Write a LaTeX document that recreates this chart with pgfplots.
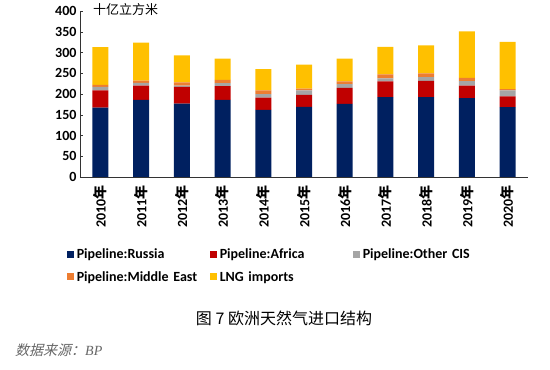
\documentclass[border=0pt]{standalone}
\usepackage{fontspec}
\setmainfont{Carlito}
\newfontfamily\cjk{Noto Sans CJK SC}
\newfontfamily\cjkit{Noto Sans CJK SC}[FakeSlant=0.25]
\newfontfamily\serifit{Liberation Serif}
\usepackage{pgfplots}
\usepackage{pgfplotstable}
\pgfplotsset{compat=1.18}
\definecolor{cRus}{HTML}{002060}
\definecolor{cAfr}{HTML}{C00000}
\definecolor{cCIS}{HTML}{A5A5A5}
\definecolor{cME}{HTML}{ED7D31}
\definecolor{cLNG}{HTML}{FFC000}
\pgfplotstableread{
x Russia Africa CIS ME LNG
0 167 42 8 5 91
1 186 34 7 5.5 91
2 177 40 3 8 65
3 186 33 7 8 51
4 162 29 9 9 51
5 169 29 11 4 58
6 176 39 9 6.5 54.5
7 192.5 38 7 10 66
8 192.5 39 9 9.5 67
9 190 30 11 8 112
10 168.5 26 14 3 114
}\data
\begin{document}
\begin{tikzpicture}
\path[use as bounding box] (0pt,0pt) rectangle (550pt,370pt);
\begin{axis}[
  at={(80pt,193pt)}, anchor=south west,
  scale only axis, width=448pt, height=166pt,
  ybar stacked, bar width=16pt,
  xmin=-0.5, xmax=10.5, ymin=0, ymax=400,
  ytick={0,50,...,400},
  xtick={0,...,10},
  xticklabels={},
  xtick style={draw=none},
  extra x ticks={-0.5,0.5,...,10.5},
  extra x tick labels={},
  extra x tick style={tick align=outside, major tick length=4pt, tick style={draw=black!80}},
  tick align=inside, major tick length=3pt,
  ytick style={draw=black!80},
  yticklabel style={font=\fontsize{14}{16}\selectfont\bfseries},
  /pgf/number format/assume math mode=true,
  axis x line*=bottom, axis y line*=left,
  axis line style={draw=black!80, line width=0.8pt},
  every outer x axis line/.append style={-}, every outer y axis line/.append style={-},
  legend columns=3,
  legend cell align=left,
  legend style={at={(-0.03,-0.42)}, anchor=north west, draw=none, inner sep=0pt,
    font=\fontsize{14}{16}\selectfont\bfseries, row sep=7pt,
    nodes={text width=124pt, align=left, inner xsep=3pt},
    /tikz/every even column/.append style={column sep=6pt}},
  legend image code/.code={\fill[#1] (0pt,-3.5pt) rectangle (7pt,3.5pt);},
]
\addplot[fill=cRus, draw=none] table[x=x,y=Russia]{\data};
\addplot[fill=cAfr, draw=none] table[x=x,y=Africa]{\data};
\addplot[fill=cCIS, draw=none] table[x=x,y=CIS]{\data};
\addplot[fill=cME, draw=none] table[x=x,y=ME]{\data};
\addplot[fill=cLNG, draw=none] table[x=x,y=LNG]{\data};
\legend{Pipeline:Russia,Pipeline:Africa,Pipeline:Other CIS,Pipeline:Middle East,LNG imports}
\end{axis}
\foreach \yr [count=\i from 0] in {2010,2011,2012,2013,2014,2015,2016,2017,2018,2019,2020}{
  \node[rotate=90, anchor=east, inner sep=0pt, font=\fontsize{14}{16}\selectfont\bfseries] at ({80pt+(\i+0.5)*448pt/11}, 185pt) {\yr{\cjk 年}};
}
\node[anchor=west, inner sep=0pt, font=\fontsize{13}{15}\selectfont\cjk] at (93pt,360pt) {十亿立方米};
\node[inner sep=0pt, font=\fontsize{16}{18}\selectfont\cjk] at (284pt,52pt) {图 7 欧洲天然气进口结构};
\node[anchor=west, inner sep=0pt, text=black!60, font=\fontsize{14}{16}\selectfont] at (15pt,20pt) {{\cjkit 数据来源：}{\serifit\itshape BP}};
\end{tikzpicture}
\end{document}
